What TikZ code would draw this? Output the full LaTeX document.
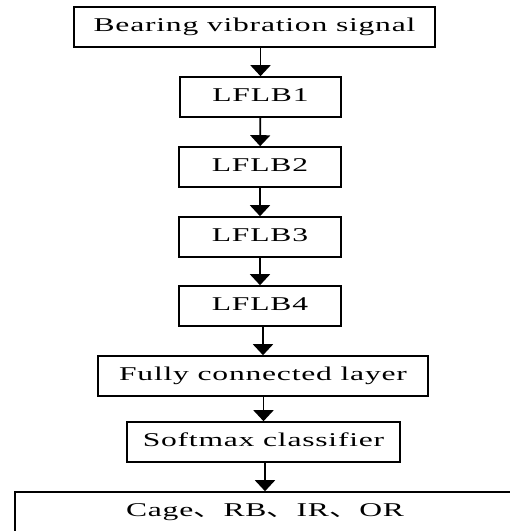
\documentclass[tikz,border=0pt]{standalone}
\usepackage{fontspec}
\setmainfont{Liberation Serif}[FakeStretch=1.62,LetterSpace=4]
\newfontfamily\cjk{Noto Sans CJK SC}[FakeStretch=1.55]
\usetikzlibrary{arrows.meta}
\tikzset{
  box/.style={draw, line width=1.6pt, rectangle, inner sep=0pt,
    minimum height=40pt, text height=13pt, text depth=4pt,
    font=\fontsize{19.5pt}{23pt}\selectfont},
  flow/.style={line width=1.8pt, -{Triangle[width=20pt,length=11pt]}}
}
\begin{document}
\begin{tikzpicture}[x=1pt,y=-1pt]
  \useasboundingbox (0,0) rectangle (510,531);
  \clip (0,0) rectangle (510,531);
  \node[box, minimum width=361pt] (sig) at (254.5,27) {Bearing vibration signal};
  \node[box, minimum width=161pt] (l1) at (260.5,97) {LFLB1};
  \node[box, minimum width=162pt] (l2) at (260,167) {LFLB2};
  \node[box, minimum width=162pt] (l3) at (260,237) {LFLB3};
  \node[box, minimum width=162pt] (l4) at (260,306) {LFLB4};
  \node[box, minimum width=330pt] (fc) at (263,376) {Fully connected layer};
  \node[box, minimum width=273pt] (sm) at (263.5,442) {Softmax classifier};
  \node[box, minimum width=500pt] (out) at (265,512) {Cage{\cjk 、}RB{\cjk 、}IR{\cjk 、}OR};
  \draw[flow] (sig.south -| l1.north) -- (l1.north);
  \draw[flow] (l1) -- (l2);
  \draw[flow] (l2) -- (l3);
  \draw[flow] (l3) -- (l4);
  \draw[flow] (l4.south -| fc.north) -- (fc.north);
  \draw[flow] (fc.south -| sm.north) -- (sm.north);
  \draw[flow] (sm.south -| out.north) -- (out.north);
\end{tikzpicture}
\end{document}
